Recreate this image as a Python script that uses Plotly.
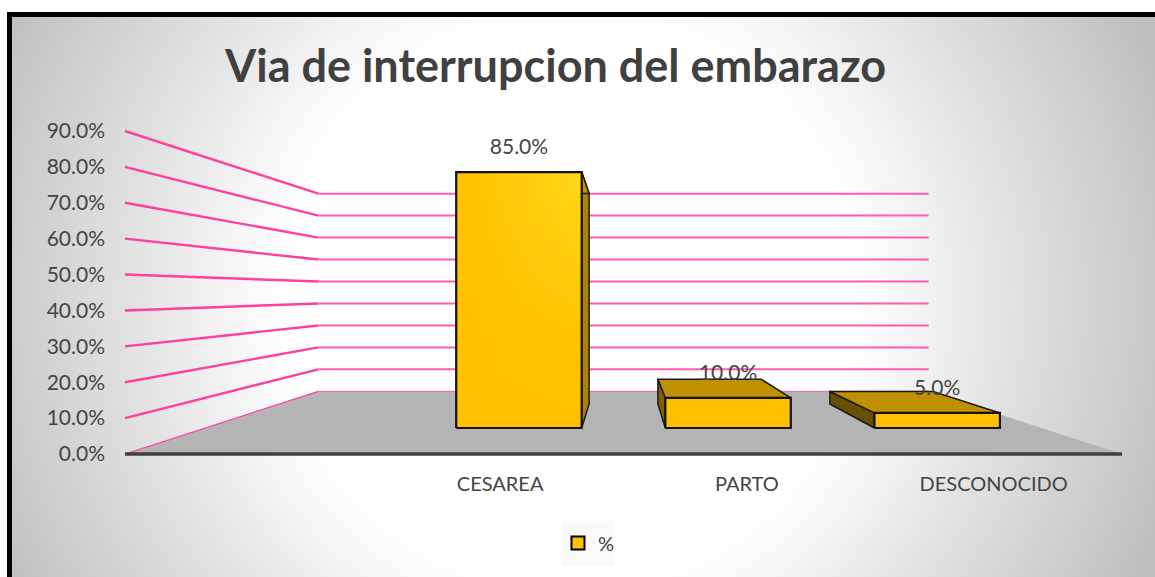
import base64
import plotly.graph_objects as go

# ---- data ----
title = "Via de interrupcion del embarazo"
categories = ["CESAREA", "PARTO", "DESCONOCIDO"]
values = [85.0, 10.0, 5.0]
value_labels = ["85.0%", "10.0%", "5.0%"]
y_ticks = [0, 10, 20, 30, 40, 50, 60, 70, 80, 90]
series_name = "%"
front_end_colors = ["#FFD818", "#FFC000", "#FFC000"]
side_colors = ["#AD8200", "#7F6000", "#665000"]
top_color = "#BF9000"

# ---- canvas and perspective ----
W, H = 1155, 577
PX_PER_SLOT = 249.25
PX_PER_PCT = 3.589
X0_PX, Y0_PX = 125, 454
SLOTS = 4                # first slot of the chart is an empty category
V_MAX = 90
WALL_S, FRONT_S, BACK_S = 0.612, 0.839, 0.69
BAR_W = 0.60
PINK = "#FF3FA0"
INK = "#444444"


def px(k, s=1.0):
    """Perspective on the slot axis: k in slots, s = depth scale."""
    return SLOTS / 2 + (k - SLOTS / 2) * s


def py(v, s=1.0):
    """Perspective on the value axis."""
    return V_MAX / 2 + (v - V_MAX / 2) * s


x_range = [-X0_PX / PX_PER_SLOT, (W - X0_PX) / PX_PER_SLOT]
y_range = [-(H - Y0_PX) / PX_PER_PCT, Y0_PX / PX_PER_PCT]

fig = go.Figure()


def poly(xs, ys, fill, line=None, width=2, **kw):
    fig.add_trace(go.Scatter(
        x=list(xs) + [xs[0]], y=list(ys) + [ys[0]], mode="lines", fill="toself",
        fillcolor=fill, line=dict(color=line or "rgba(0,0,0,0)", width=width, simplify=False),
        hoverinfo="skip", showlegend=False, **kw))


# floor
poly([px(0), px(0, WALL_S), px(SLOTS, WALL_S), px(SLOTS)],
     [py(0), py(0, WALL_S), py(0, WALL_S), py(0)], "#B4B4B4")

# gridlines: side wall then back wall
for t in y_ticks:
    fig.add_trace(go.Scatter(
        x=[px(0), px(0, WALL_S)], y=[py(t), py(t, WALL_S)], mode="lines",
        line=dict(color=PINK, width=2.4 if t else 1.2), hoverinfo="skip", showlegend=False))
    fig.add_trace(go.Scatter(
        x=[px(0, WALL_S), px(SLOTS, WALL_S)], y=[py(t, WALL_S), py(t, WALL_S)], mode="lines",
        line=dict(color="#FF5CAE", width=2 if t else 1), hoverinfo="skip", showlegend=False))

# front axis line
fig.add_trace(go.Scatter(x=[px(0), px(SLOTS)], y=[py(0), py(0)], mode="lines",
                         line=dict(color="#404040", width=3.5), hoverinfo="skip", showlegend=False))

# bars
for i, v in enumerate(values):
    c = i + 1.5
    l, r = c - BAR_W / 2, c + BAR_W / 2
    edge = r if c < SLOTS / 2 else l
    fx = [px(l, FRONT_S), px(r, FRONT_S), px(r, FRONT_S), px(l, FRONT_S)]
    fy = [py(0, FRONT_S), py(0, FRONT_S), py(v, FRONT_S), py(v, FRONT_S)]
    # side face
    poly([px(edge, FRONT_S), px(edge, BACK_S), px(edge, BACK_S), px(edge, FRONT_S)],
         [py(0, FRONT_S), py(0, BACK_S), py(v, BACK_S), py(v, FRONT_S)], side_colors[i], "#1A1A1A", 1.5)
    # top face
    poly([px(l, FRONT_S), px(l, BACK_S), px(r, BACK_S), px(r, FRONT_S)],
         [py(v, FRONT_S), py(v, BACK_S), py(v, BACK_S), py(v, FRONT_S)], top_color, "#1A1A1A", 1.5)
    # front face: left-to-right glow, faded out towards the bottom
    poly(fx, fy, "#FFC000", None, 0,
         fillgradient=dict(type="horizontal",
                           colorscale=[[0, "#FFC000"], [1, front_end_colors[i]]]))
    poly(fx, fy, "rgba(255,192,0,0)", "#111111", 2.2,
         fillgradient=dict(type="vertical",
                           colorscale=[[0, "rgba(255,192,0,1)"], [0.35, "rgba(255,192,0,0.85)"],
                                       [1, "rgba(255,192,0,0)"]]))

# value labels
fig.add_trace(go.Scatter(
    x=[px(i + 1.5, FRONT_S) for i in range(len(values))],
    y=[py(v, FRONT_S) + 23 / PX_PER_PCT for v in values],
    mode="text", text=value_labels, textposition="middle center",
    textfont=dict(family="Lato", size=21, color=INK), hoverinfo="skip", showlegend=False))

# legend entry
fig.add_trace(go.Scatter(
    x=[None], y=[None], mode="markers", name=series_name,
    marker=dict(symbol="square", size=13, color="#FFC000", line=dict(color="#000000", width=2))))

svg = f"""<svg xmlns="http://www.w3.org/2000/svg" width="{W}" height="{H}">
<defs><radialGradient id="g" gradientUnits="userSpaceOnUse" cx="570" cy="300" r="630">
<stop offset="0.45" stop-color="#ffffff"/><stop offset="1" stop-color="#bfbfbf"/></radialGradient></defs>
<rect x="7" y="12" width="{W}" height="{H}" fill="url(#g)"/></svg>"""
bg = "data:image/svg+xml;base64," + base64.b64encode(svg.encode()).decode()

fig.update_layout(
    width=W, height=H, margin=dict(l=0, r=0, t=0, b=0), autosize=False,
    paper_bgcolor="#ffffff", plot_bgcolor="rgba(0,0,0,0)",
    title=dict(text=f"<b>{title}</b>", x=555.5 / W, xanchor="center", y=1 - 66 / H, yanchor="middle",
               font=dict(family="Lato", size=45, color="#404040")),
    images=[dict(source=bg, xref="paper", yref="paper", x=0, y=1, sizex=1, sizey=1,
                 sizing="stretch", xanchor="left", yanchor="top", layer="below")],
    shapes=[
        dict(type="rect", xref="paper", yref="paper", x0=9.5 / W, x1=1.02, y0=-0.02, y1=1 - 14.5 / H,
             line=dict(color="#000000", width=5), fillcolor="rgba(0,0,0,0)", layer="below"),
        dict(type="rect", xref="paper", yref="paper", x0=561 / W, x1=614 / W, y0=1 - 566 / H, y1=1 - 521 / H,
             line=dict(width=0), fillcolor="#F9F9F9", layer="below"),
    ],
    xaxis=dict(range=x_range, tickmode="array",
               tickvals=[px(i + 1.5, 0.99) for i in range(len(categories))],
               ticktext=categories, anchor="free", position=1 - Y0_PX / H, showline=False, showgrid=False,
               zeroline=False, ticks="outside", ticklen=12, tickcolor="rgba(0,0,0,0)",
               tickfont=dict(family="Lato", size=20, color=INK), fixedrange=True),
    yaxis=dict(range=y_range, tickmode="array", tickvals=y_ticks, ticktext=[f"{t:.1f}%" for t in y_ticks],
               anchor="free", position=105 / W, showline=False, showgrid=False, zeroline=False,
               ticks="", tickfont=dict(family="Lato", size=21, color=INK), fixedrange=True),
    showlegend=True,
    legend=dict(x=558 / W, y=1 - 523.5 / H, xanchor="left", yanchor="top", bgcolor="rgba(0,0,0,0)",
                font=dict(family="Lato", size=20, color=INK), itemwidth=30, borderwidth=0),
)

fig.write_html("out.html", config={"displayModeBar": False},
               post_script="document.body.style.margin='0';document.body.style.overflow='hidden';")
